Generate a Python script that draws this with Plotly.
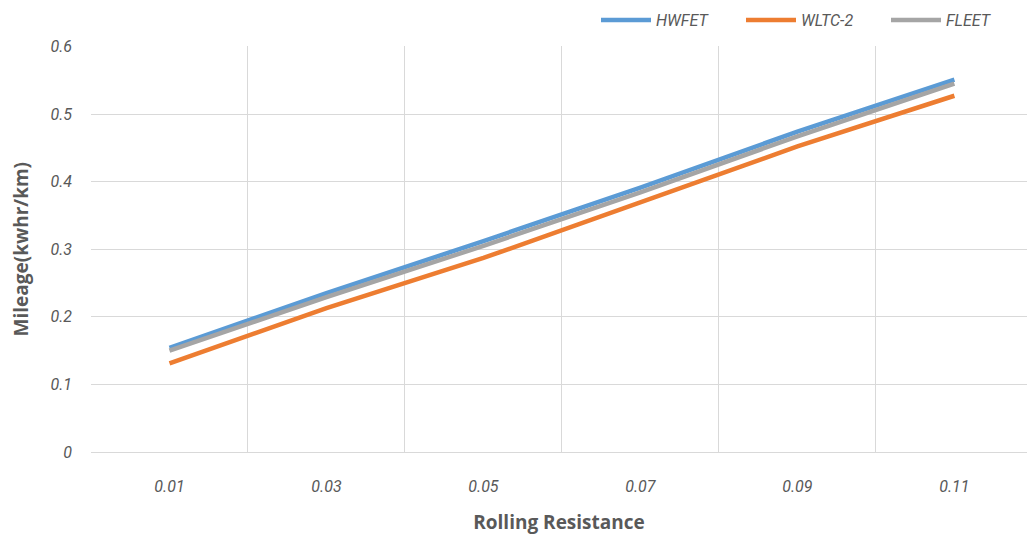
import plotly.graph_objects as go

rolling_resistance = [0.01, 0.03, 0.05, 0.07, 0.09, 0.11]
hwfet = [0.154, 0.235, 0.312, 0.391, 0.474, 0.551]
wltc2 = [0.131, 0.213, 0.287, 0.369, 0.452, 0.527]
fleet = [0.150, 0.229, 0.305, 0.384, 0.467, 0.545]

series = [("HWFET", hwfet, "#5B9BD5"), ("WLTC-2", wltc2, "#ED7D31"), ("FLEET", fleet, "#A5A5A5")]

fig = go.Figure()
for name, vals, col in series:
    fig.add_trace(go.Scatter(x=rolling_resistance, y=vals, mode="lines", name=name,
                             line=dict(color=col, width=4.5)))

tick_font = dict(family="Roboto, sans-serif", size=16, color="#595959")
title_font = dict(family="Open Sans, sans-serif", size=19, color="#595959")

fig.update_layout(
    width=1027, height=535,
    margin=dict(l=91, r=0, t=42, b=83),
    paper_bgcolor="white", plot_bgcolor="white",
    showlegend=True,
    legend=dict(orientation="h", xref="container", yref="container", x=596 / 1027, xanchor="left",
                y=1 - 20 / 535, yanchor="middle",
                font=dict(family="Roboto, sans-serif", size=16, color="#595959", style="italic"),
                itemwidth=50, entrywidth=80, entrywidthmode="pixels", bgcolor="rgba(0,0,0,0)"),
    xaxis=dict(range=[0, 0.11925], tickvals=rolling_resistance, ticktext=["0.01", "0.03", "0.05", "0.07", "0.09", "0.11"],
               showgrid=False, zeroline=False, showline=True, linecolor="#d9d9d9", linewidth=1,
               ticks="", ticklabelstandoff=20,
               tickfont=dict(tick_font, style="italic"),
               minor=dict(tick0=0, dtick=0.02, showgrid=True, gridcolor="#d9d9d9", gridwidth=1, ticks=""),
               title=dict(text="<b>Rolling Resistance</b>", font=title_font, standoff=22)),
    yaxis=dict(range=[0, 0.6], dtick=0.1, tick0=0, showgrid=True, gridcolor="#d9d9d9", gridwidth=1,
               zeroline=False, showline=False, ticks="", ticklabelstandoff=18,
               tickfont=dict(tick_font, style="italic"),
               title=dict(text="<b>Mileage(kwhr/km)</b>", font=title_font, standoff=16)),
)

fig.write_html("out.html")
